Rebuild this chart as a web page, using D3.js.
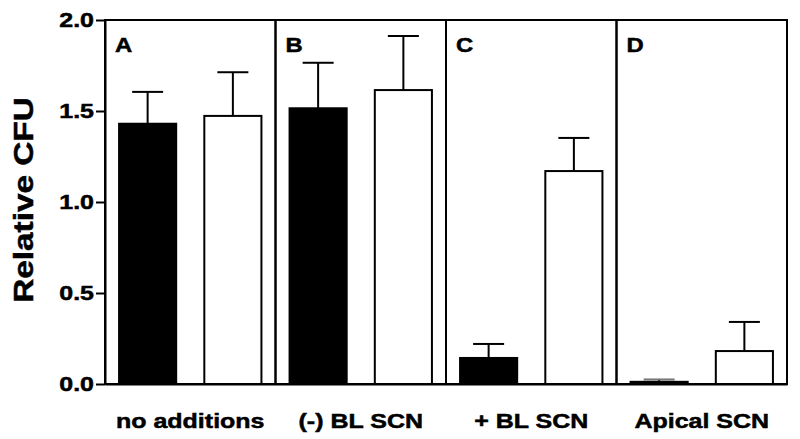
<!DOCTYPE html>
<html>
<head>
<meta charset="utf-8">
<script src="https://cdn.jsdelivr.net/npm/d3@7"></script>
<style>
  body { margin: 0; background: #fff; }
  text { font-family: "Liberation Sans", Arial, sans-serif; font-weight: bold; fill: #000;
         stroke: #000; stroke-width: 0.5px; }
</style>
</head>
<body>
<div class="chart-container"></div>
<script>
// groups along the x axis
var panels = ['no additions', '(-) BL SCN', '+ BL SCN', 'Apical SCN'];
var panelLetters = ['A', 'B', 'C', 'D'];
var series = ['filled', 'open'];

// mean relative CFU per panel
var filledMeans = [1.43, 1.515, 0.143, 0.012];
var openMeans = [1.473, 1.615, 1.17, 0.181];
// upper error (SEM)
var filledErr = [0.175, 0.25, 0.077, 0.013];
var openErr = [0.24, 0.297, 0.182, 0.16];

var yTicks = [0, 0.5, 1.0, 1.5, 2.0];

var W = 800, H = 439;
var margin = {top: 20, right: 13, bottom: 55, left: 105};
var width = W - margin.left - margin.right,
    height = H - margin.top - margin.bottom;
var K = 1.19; // text in the picture is wider than Arial

var svg = d3.select('.chart-container').append('svg')
    .attr('width', W)
    .attr('height', H)
  .append('g')
    .attr('transform', 'translate(' + margin.left + ',' + margin.top + ')');

var x0 = d3.scaleBand().domain(panels).range([0, width]).padding(0);
var x1 = d3.scaleBand().domain(series).range([0, x0.bandwidth()])
    .paddingInner(0.33).paddingOuter(0.165);
var y = d3.scaleLinear().domain([0, 2]).range([height, 0]);

var rows = [];
panels.forEach(function (p, i) {
  rows.push({panel: p, s: 'filled', v: filledMeans[i], e: filledErr[i]});
  rows.push({panel: p, s: 'open', v: openMeans[i], e: openErr[i]});
});

// error bars (drawn first so bar outline sits on top)
var capW = 31;
var err = svg.selectAll('.err').data(rows).enter().append('g').attr('class', 'err')
    .attr('transform', function (d) { return 'translate(' + (x0(d.panel) + x1(d.s) + x1.bandwidth() / 2) + ',0)'; });
err.append('line')
    .attr('y1', function (d) { return y(d.v); })
    .attr('y2', function (d) { return y(d.v + d.e); })
    .attr('stroke', '#000').attr('stroke-width', 2);
err.append('line')
    .attr('x1', -capW / 2).attr('x2', capW / 2)
    .attr('y1', function (d) { return y(d.v + d.e); })
    .attr('y2', function (d) { return y(d.v + d.e); })
    .attr('stroke', function (d) { return d.v < 0.05 ? '#777' : '#000'; })
    .attr('stroke-width', 2);

// bars
svg.selectAll('.bar').data(rows).enter().append('rect')
    .attr('class', 'bar')
    .attr('x', function (d) { return x0(d.panel) + x1(d.s); })
    .attr('width', x1.bandwidth())
    .attr('y', function (d) { return y(d.v); })
    .attr('height', function (d) { return height - y(d.v); })
    .attr('fill', function (d) { return d.s === 'filled' ? '#000' : '#fff'; })
    .attr('stroke', '#000')
    .attr('stroke-width', 2);

// panel frames
svg.selectAll('.frame').data(panels).enter().append('rect')
    .attr('class', 'frame')
    .attr('x', function (d) { return x0(d); })
    .attr('y', 0)
    .attr('width', x0.bandwidth())
    .attr('height', height)
    .attr('fill', 'none')
    .attr('stroke', '#000')
    .attr('stroke-width', 2);

// panel letters
svg.selectAll('.letter').data(panels).enter().append('text')
    .attr('class', 'letter')
    .attr('transform', function (d) { return 'translate(' + (x0(d) + 10) + ',32) scale(' + K + ',1)'; })
    .style('font-size', '20px')
    .text(function (d, i) { return panelLetters[i]; });

// y axis
var yAxis = d3.axisLeft(y).tickValues(yTicks).tickFormat(d3.format('.1f'))
    .tickSize(9).tickPadding(2).tickSizeOuter(0);
var gy = svg.append('g').attr('class', 'y axis').call(yAxis);
gy.select('.domain').attr('stroke-width', 2);
gy.selectAll('.tick line').attr('stroke-width', 2);
gy.selectAll('.tick text')
    .attr('x', -11 / K)
    .attr('transform', 'scale(' + K + ',1)')
    .style('font-size', '21px').attr('fill', '#000');

// x axis
var xAxis = d3.axisBottom(x0).tickSize(0).tickSizeOuter(0);
var gx = svg.append('g').attr('class', 'x axis')
    .attr('transform', 'translate(0,' + height + ')').call(xAxis);
gx.select('.domain').attr('stroke-width', 2);
gx.selectAll('.tick text').attr('y', 44).attr('dy', 0)
    .attr('transform', 'scale(' + K + ',1)')
    .style('font-size', '21px').attr('fill', '#000');

// y title
svg.append('text')
    .attr('transform', 'translate(' + (33 - margin.left) + ',' + (200 - margin.top) + ') rotate(-90) scale(' + K + ',1)')
    .attr('text-anchor', 'middle')
    .style('font-size', '28px')
    .text('Relative CFU');
</script>
</body>
</html>
